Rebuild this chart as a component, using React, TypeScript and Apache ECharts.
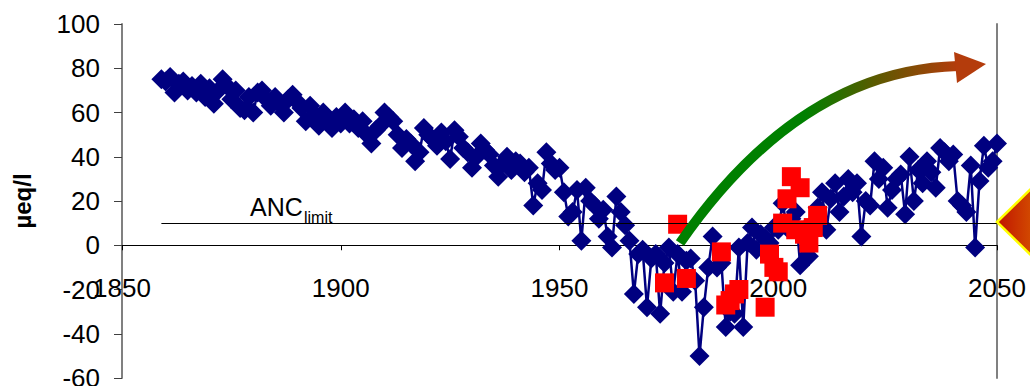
import React, { useEffect, useRef } from "react";
import * as echarts from "echarts";

// Modelled ANC (blue diamonds), one value per year
const modelYears = [
  1859, 1860, 1861, 1862, 1863, 1864, 1865, 1866, 1867, 1868, 1869, 1870, 1871, 1872, 1873, 1874, 1875, 1876, 1877, 1878,
  1879, 1880, 1881, 1882, 1883, 1884, 1885, 1886, 1887, 1888, 1889, 1890, 1891, 1892, 1893, 1894, 1895, 1896, 1897, 1898,
  1899, 1900, 1901, 1902, 1903, 1904, 1905, 1906, 1907, 1908, 1909, 1910, 1911, 1912, 1913, 1914, 1915, 1916, 1917, 1918,
  1919, 1920, 1921, 1922, 1923, 1924, 1925, 1926, 1927, 1928, 1929, 1930, 1931, 1932, 1933, 1934, 1935, 1936, 1937, 1938,
  1939, 1940, 1941, 1942, 1943, 1944, 1945, 1946, 1947, 1948, 1949, 1950, 1951, 1952, 1953, 1954, 1955, 1956, 1957, 1958,
  1959, 1960, 1961, 1962, 1963, 1964, 1965, 1966, 1967, 1968, 1969, 1970, 1971, 1972, 1973, 1974, 1975, 1976, 1977, 1978,
  1979, 1980, 1981, 1982, 1983, 1984, 1985, 1986, 1987, 1988, 1989, 1990, 1991, 1992, 1993, 1994, 1995, 1996, 1997, 1998,
  1999, 2000, 2001, 2002, 2003, 2004, 2005, 2006, 2007, 2008, 2009, 2010, 2011, 2012, 2013, 2014, 2015, 2016, 2017, 2018,
  2019, 2020, 2021, 2022, 2023, 2024, 2025, 2026, 2027, 2028, 2029, 2030, 2031, 2032, 2033, 2034, 2035, 2036, 2037, 2038,
  2039, 2040, 2041, 2042, 2043, 2044, 2045, 2046, 2047, 2048, 2049, 2050,
];
const modelValues = [
  75, 74, 76, 69, 73, 74, 70, 72, 69, 73, 67, 71, 64, 70, 75, 72, 66, 70, 62, 61,
  67, 60, 69, 70, 66, 63, 67, 64, 60, 66, 68, 65, 62, 56, 63, 59, 54, 60, 56, 53,
  58, 55, 60, 55, 57, 53, 56, 50, 46, 52, 54, 60, 58, 56, 50, 44, 48, 46, 38, 42,
  53, 50, 48, 45, 51, 47, 39, 52, 49, 44, 42, 35, 40, 46, 43, 41, 36, 31, 37, 40,
  34, 38, 37, 33, 35, 18, 28, 25, 42, 37, 34, 35, 24, 13, 15, 25, 2, 26, 20, 18,
  12, 16, 4, -1, 22, 15, 9, 2, -22, -4, -2, -28, -6, -4, -31, -8, -1, -21, -4, -21,
  -7, -6, -16, -50, -28, -10, 4, -10, -8, -37, -30, -31, -1, -37, 1, 8, -2, 5, 3, 1,
  8, 7, 19, 8, 12, 15, -9, 7, -5, 10, 17, 24, 7, 21, 28, 15, 22, 30, 24, 28,
  4, 20, 18, 38, 30, 35, 17, 25, 30, 32, 14, 40, 20, 34, 28, 38, 33, 26, 44, 42,
  38, 41, 20, 18, 15, 36, -1, 29, 45, 35, 38, 46,
];

// Measured ANC (red squares)
const measuredYears = [1974, 1977, 1979, 1987, 1988, 1989, 1990, 1991, 1997, 1998, 1999, 2000, 2001, 2002, 2003, 2004, 2005, 2006, 2007, 2008, 2009];
const measuredValues = [-17, 9.5, -15, -3, -27, -25, -22, -20, -28, -4, -10, -12, 10, 21, 31, 7, 26, 5, 1, 8, 13.5];

// ANC limit
const ancLimit = 10;
const ancStartYear = 1859;
const ancEndYear = 2050;

// Axes
const xMin = 1850;
const xMax = 2050;
const xStep = 50;
const yMin = -60;
const yMax = 100;
const yStep = 20;

const FONT = "'Liberation Sans', Arial, sans-serif";
const GRID = { left: 122, right: 33, top: 24, bottom: 8 };
const CHART_H = 386;

export default function App() {
  const ref = useRef<HTMLDivElement>(null);
  useEffect(() => {
    if (!ref.current) return;
    const chart = echarts.init(ref.current, undefined, { renderer: "svg" });

    // x axis sits on y = 0 (Excel "crosses at 0"), labels follow it
    const plotH = CHART_H - GRID.top - GRID.bottom;
    const zeroOffset = -((0 - yMin) / (yMax - yMin)) * plotH;

    const arrowGrad = new echarts.graphic.LinearGradient(0, 0, 1, 0, [
      { offset: 0, color: "#008000" },
      { offset: 0.45, color: "#008000" },
      { offset: 0.7, color: "#5a5a00" },
      { offset: 1, color: "#b43c0c" },
    ]);
    const triGrad = new echarts.graphic.LinearGradient(0, 0, 1, 0, [
      { offset: 0, color: "#c01400" },
      { offset: 1, color: "#d85a00" },
    ]);

    chart.setOption({
      animation: false,
      backgroundColor: "#ffffff",
      grid: { ...GRID, containLabel: false, outerBoundsMode: "none" },
      xAxis: {
        type: "value",
        min: xMin,
        max: xMax,
        interval: xStep,
        position: "bottom",
        offset: zeroOffset,
        axisLine: { show: true, onZero: false, lineStyle: { color: "#000000", width: 1 } },
        axisTick: { show: true, inside: false, length: 5, lineStyle: { color: "#000000" } },
        axisLabel: {
          margin: 30,
          fontSize: 26,
          color: "#000000",
          fontFamily: FONT,
          formatter: (v: number) => String(v),
        },
        splitLine: { show: false },
      },
      yAxis: [
        {
          type: "value",
          min: yMin,
          max: yMax,
          interval: yStep,
          position: "left",
          name: "µeq/l",
          nameLocation: "middle",
          nameRotate: 90,
          nameGap: 88,
          nameTextStyle: { fontWeight: "bold", fontSize: 24, color: "#000000", fontFamily: FONT },
          axisLine: { show: true, onZero: false, lineStyle: { color: "#808080", width: 2 } },
          axisTick: { show: true, inside: false, length: 8, lineStyle: { color: "#404040" } },
          axisLabel: { margin: 22, fontSize: 26, color: "#000000", fontFamily: FONT, formatter: (v: number) => String(v) },
          splitLine: { show: false },
        },
        {
          type: "value",
          min: yMin,
          max: yMax,
          interval: yStep,
          position: "right",
          axisLine: { show: true, onZero: false, lineStyle: { color: "#808080", width: 2 } },
          axisTick: { show: false },
          axisLabel: { show: false },
          splitLine: { show: false },
        },
      ],
      series: [
        {
          name: "Modelled",
          type: "line",
          data: modelYears.map((y, i) => [y, modelValues[i]]),
          symbol: "diamond",
          symbolSize: 20,
          showAllSymbol: true,
          itemStyle: { color: "#000080" },
          lineStyle: { color: "#000080", width: 2.5 },
          z: 2,
          markLine: {
            silent: true,
            symbol: ["none", "none"],
            label: { show: false },
            lineStyle: { color: "#000000", width: 1, type: "solid" },
            data: [[{ coord: [ancStartYear, ancLimit] }, { coord: [ancEndYear, ancLimit] }]],
          },
        },
        {
          name: "Measured",
          type: "scatter",
          data: measuredYears.map((y, i) => [y, measuredValues[i]]),
          symbol: "rect",
          symbolSize: 19,
          itemStyle: { color: "#ff0000", opacity: 1 },
          z: 3,
        },
      ],
      graphic: [
        {
          type: "text",
          x: 250,
          y: 207,
          style: { text: "ANC", font: `25px ${FONT}`, fill: "#000000", align: "left", verticalAlign: "middle" },
        },
        {
          type: "text",
          x: 304,
          y: 217,
          style: { text: "limit", font: `16px ${FONT}`, fill: "#000000", align: "left", verticalAlign: "middle" },
        },
        {
          type: "bezierCurve",
          shape: { x1: 680, y1: 243, cpx1: 800, cpy1: 70, x2: 958, y2: 66 },
          style: { stroke: arrowGrad, lineWidth: 10, fill: "none" },
          z: 10,
        },
        {
          type: "polygon",
          shape: { points: [[954, 52], [986, 64], [957, 83]] },
          style: { fill: "#b43c0c" },
          z: 10,
        },
        {
          type: "polygon",
          shape: { points: [[997, 222], [1042, 178], [1042, 266]] },
          style: { fill: triGrad, stroke: "#ffff00", lineWidth: 2.5 },
          z: 10,
        },
      ],
    });
    return () => chart.dispose();
  }, []);
  return <div ref={ref} style={{ position: "fixed", left: 0, top: 0, width: 1030, height: CHART_H }} />;
}
